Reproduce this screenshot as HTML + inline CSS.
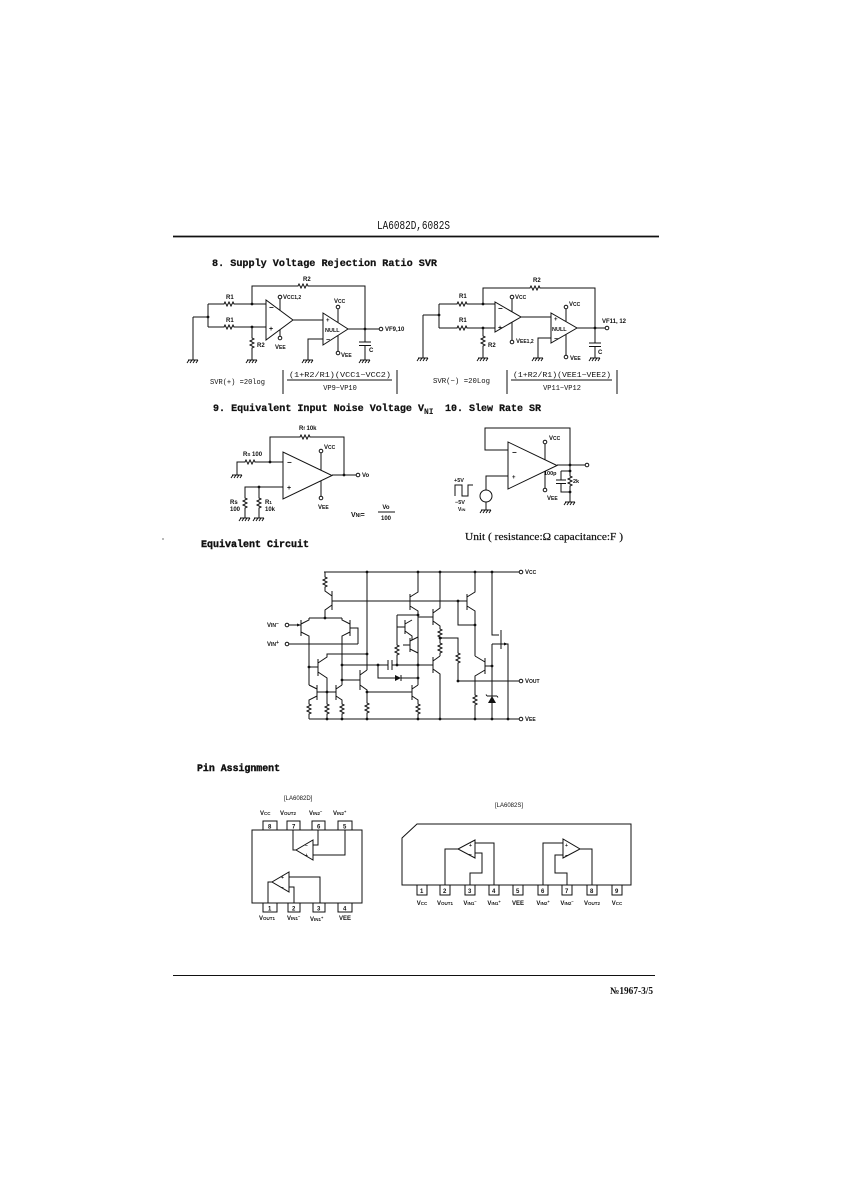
<!DOCTYPE html>
<html>
<head>
<meta charset="utf-8">
<style>
html,body{margin:0;padding:0;background:#fff;}
svg{display:block;}
.t{font-family:"Liberation Sans",sans-serif;font-size:6px;fill:#111;font-weight:bold;}
.m{font-family:"Liberation Mono",monospace;fill:#111;}
.s{font-family:"Liberation Serif",serif;fill:#111;}
</style>
</head>
<body>
<svg width="842" height="1191" viewBox="0 0 842 1191" xmlns="http://www.w3.org/2000/svg">
<rect width="842" height="1191" fill="#fff"/>

<!-- Header -->
<text class="m" x="377" y="229" font-size="12" textLength="73" lengthAdjust="spacingAndGlyphs">LA6082D,6082S</text>
<line x1="173" y1="236.5" x2="659" y2="236.5" stroke="#111" stroke-width="1.8"/>

<!-- Section 8 title -->
<text class="m" x="212" y="266" font-size="10" font-weight="bold" textLength="225" lengthAdjust="spacingAndGlyphs" stroke="#111" stroke-width="0.25">8. Supply Voltage Rejection Ratio SVR</text>

<g stroke="#111" fill="none" stroke-width="1">
<!-- ===== SVR(+) circuit ===== -->
<path d="M252,304 V286 H298 l1,-2 l2,4 l2,-4 l2,4 l2,-4 l1,2 H365 V328"/>
<path d="M208,304 H224 l1,-2 l2,4 l2,-4 l2,4 l2,-4 l1,2 H266"/>
<path d="M208,327 H224 l1,-2 l2,4 l2,-4 l2,4 l2,-4 l1,2 H266"/>
<path d="M208,304 V327 M193,317 H208 M193,317 V360"/>
<path d="M252,327 V338 l2,1 l-4,2 l4,2 l-4,2 l4,2 l-2,1 V360"/>
<path d="M266,300 L266,340 L293,320 Z"/>
<path d="M280,299 V310.4 M280,329.6 V336"/>
<path d="M293,320 H323"/>
<path d="M323,313 L323,345 L348,329 Z"/>
<path d="M338,309 V322.6 M338,335.4 V351"/>
<path d="M323,339 H308 V360"/>
<path d="M348,329 H379"/>
<path d="M365,328 V342 M359,342 H371 M359,345.5 H371 M365,345.5 V360"/>
<circle cx="280" cy="297" r="1.8"/>
<circle cx="280" cy="338" r="1.8"/>
<circle cx="338" cy="307" r="1.8"/>
<circle cx="338" cy="353" r="1.8"/>
<circle cx="381" cy="329" r="1.8"/>
<!-- grounds -->
<path d="M188,360 h10 M189,360 l-2,3 M192,360 l-2,3 M195,360 l-2,3 M198,360 l-2,3"/>
<path d="M247,360 h10 M248,360 l-2,3 M251,360 l-2,3 M254,360 l-2,3 M257,360 l-2,3"/>
<path d="M303,360 h10 M304,360 l-2,3 M307,360 l-2,3 M310,360 l-2,3 M313,360 l-2,3"/>
<path d="M360,360 h10 M361,360 l-2,3 M364,360 l-2,3 M367,360 l-2,3 M370,360 l-2,3"/>
<!-- formula bars -->
<path d="M283,370 V394 M397,370 V394 M287,380 H392"/>

<!-- ===== SVR(-) circuit ===== -->
<path d="M483,304 V288 H530 l1,-2 l2,4 l2,-4 l2,4 l2,-4 l1,2 H595 V329"/>
<path d="M439,304 H457 l1,-2 l2,4 l2,-4 l2,4 l2,-4 l1,2 H495"/>
<path d="M439,328 H457 l1,-2 l2,4 l2,-4 l2,4 l2,-4 l1,2 H495"/>
<path d="M439,304 V328 M423,315 H439 M423,315 V358"/>
<path d="M483,328 V336 l2,1 l-4,2 l4,2 l-4,2 l4,2 l-2,1 V358"/>
<path d="M495,302 L495,332 L521,317 Z"/>
<path d="M512,299 V311.8 M512,322.2 V340"/>
<path d="M521,317 H551"/>
<path d="M551,313 L551,343 L577,328 Z"/>
<path d="M566,309 V321.7 M566,334.3 V355"/>
<path d="M551,338 H538 V358"/>
<path d="M577,328 H605"/>
<path d="M595,329 V343 M589,343 H601 M589,346.5 H601 M595,346.5 V358"/>
<circle cx="512" cy="297" r="1.8"/>
<circle cx="512" cy="342" r="1.8"/>
<circle cx="566" cy="307" r="1.8"/>
<circle cx="566" cy="357" r="1.8"/>
<circle cx="607" cy="328" r="1.8"/>
<path d="M418,358 h10 M419,358 l-2,3 M422,358 l-2,3 M425,358 l-2,3 M428,358 l-2,3"/>
<path d="M478,358 h10 M479,358 l-2,3 M482,358 l-2,3 M485,358 l-2,3 M488,358 l-2,3"/>
<path d="M533,358 h10 M534,358 l-2,3 M537,358 l-2,3 M540,358 l-2,3 M543,358 l-2,3"/>
<path d="M590,358 h10 M591,358 l-2,3 M594,358 l-2,3 M597,358 l-2,3 M600,358 l-2,3"/>
<path d="M507,370 V394 M617,370 V394 M511,380 H612"/>

<!-- ===== Section 9 circuit ===== -->
<path d="M270,462 V437 H300 l1,-2 l2,4 l2,-4 l2,4 l2,-4 l1,2 H344 V475"/>
<path d="M237,475 V462 H245 l1,-2 l2,4 l2,-4 l2,4 l2,-4 l1,2 H283"/>
<path d="M283,452 L283,499 L332,475.5 Z"/>
<path d="M321,453 V470.2 M321,480.8 V496"/>
<path d="M332,475 H356"/>
<path d="M283,487 H245 V498 l2,1 l-4,2 l4,2 l-4,2 l4,2 l-2,1 V518"/>
<path d="M259,487 V498 l2,1 l-4,2 l4,2 l-4,2 l4,2 l-2,1 V518"/>
<circle cx="321" cy="451" r="1.8"/>
<circle cx="321" cy="498" r="1.8"/>
<circle cx="358" cy="475" r="1.8"/>
<path d="M232,475 h10 M233,475 l-2,3 M236,475 l-2,3 M239,475 l-2,3 M242,475 l-2,3"/>
<path d="M240,518 h10 M241,518 l-2,3 M244,518 l-2,3 M247,518 l-2,3 M250,518 l-2,3"/>
<path d="M254,518 h10 M255,518 l-2,3 M258,518 l-2,3 M261,518 l-2,3 M264,518 l-2,3"/>
<path d="M378,512 H395"/>

<!-- ===== Section 10 circuit ===== -->
<path d="M508,450 H485 V428 H570 V476 l2,1 l-4,2 l4,2 l-4,2 l4,2 l-2,1 V502"/>
<path d="M508,442 L508,489 L557,465.5 Z"/>
<path d="M545,444 V459.7 M545,471.3 V488"/>
<path d="M557,465 H585"/>
<path d="M561,471 H570 M561,471 V480 M556,480 H566 M556,483.5 H566 M561,483.5 V492 H570"/>
<path d="M508,476 H486 V490"/>
<circle cx="486" cy="496" r="6"/>
<path d="M486,502 V510"/>
<path d="M455,496 V485 H462 V496 H468 V485 H473"/>
<circle cx="545" cy="442" r="1.8"/>
<circle cx="545" cy="490" r="1.8"/>
<circle cx="587" cy="465" r="1.8"/>
<path d="M481,510 h10 M482,510 l-2,3 M485,510 l-2,3 M488,510 l-2,3 M491,510 l-2,3"/>
<path d="M565,502 h10 M566,502 l-2,3 M569,502 l-2,3 M572,502 l-2,3 M575,502 l-2,3"/>
</g>

<!-- dots -->
<g fill="#111">
<circle cx="208" cy="317" r="1.4"/><circle cx="252" cy="304" r="1.4"/><circle cx="252" cy="327" r="1.4"/><circle cx="365" cy="329" r="1.4"/>
<circle cx="439" cy="315" r="1.4"/><circle cx="483" cy="304" r="1.4"/><circle cx="483" cy="328" r="1.4"/><circle cx="595" cy="328" r="1.4"/>
<circle cx="270" cy="462" r="1.4"/><circle cx="344" cy="475" r="1.4"/><circle cx="259" cy="487" r="1.4"/>
<circle cx="570" cy="465" r="1.4"/><circle cx="570" cy="471" r="1.4"/><circle cx="570" cy="492" r="1.4"/>
<circle cx="163" cy="539" r="0.6"/>
</g>

<!-- Section 8 labels -->
<g class="t">
<text x="303" y="281">R2</text>
<text x="226" y="299">R1</text>
<text x="226" y="322">R1</text>
<text x="283" y="299">V<tspan font-size="5">CC1,2</tspan></text>
<text x="334" y="303">V<tspan font-size="5">CC</tspan></text>
<text x="275" y="349">V<tspan font-size="5">EE</tspan></text>
<text x="257" y="347">R2</text>
<text x="341" y="357">V<tspan font-size="5">EE</tspan></text>
<text x="385" y="331">VF9,10</text>
<text x="369" y="352">C</text>
<text x="269" y="310" font-size="8">−</text>
<text x="269" y="331" font-size="7">+</text>
<text x="326" y="322" font-size="6">+</text>
<text x="325" y="332" font-size="5.5">NULL</text>
<text x="326" y="342" font-size="7">−</text>

<text x="533" y="282">R2</text>
<text x="459" y="298">R1</text>
<text x="459" y="322">R1</text>
<text x="515" y="299">V<tspan font-size="5">CC</tspan></text>
<text x="516" y="343">V<tspan font-size="5">EE1,2</tspan></text>
<text x="488" y="347">R2</text>
<text x="569" y="306">V<tspan font-size="5">CC</tspan></text>
<text x="570" y="360">V<tspan font-size="5">EE</tspan></text>
<text x="602" y="323">VF11, 12</text>
<text x="598" y="354">C</text>
<text x="498" y="311" font-size="8">−</text>
<text x="498" y="330" font-size="7">+</text>
<text x="554" y="321" font-size="6">+</text>
<text x="552" y="331" font-size="5.5">NULL</text>
<text x="554" y="341" font-size="7">−</text>
</g>

<!-- formulas -->
<g class="m" font-size="7.5">
<text x="210" y="384" textLength="55" lengthAdjust="spacingAndGlyphs">SVR(+) =20log</text>
<text x="340" y="377" text-anchor="middle" font-size="7" textLength="102" lengthAdjust="spacingAndGlyphs">(1+R2/R1)(VCC1−VCC2)</text>
<text x="340" y="390" text-anchor="middle" font-size="7">VP9−VP10</text>
<text x="433" y="383" textLength="57" lengthAdjust="spacingAndGlyphs">SVR(−) =20Log</text>
<text x="562" y="377" text-anchor="middle" font-size="7" textLength="98" lengthAdjust="spacingAndGlyphs">(1+R2/R1)(VEE1−VEE2)</text>
<text x="562" y="390" text-anchor="middle" font-size="7">VP11−VP12</text>
</g>

<!-- Section 9/10 titles -->
<text class="m" x="213" y="411" font-size="10" font-weight="bold" textLength="211" lengthAdjust="spacingAndGlyphs" stroke="#111" stroke-width="0.25">9. Equivalent Input Noise Voltage V</text>
<text class="m" x="424" y="414" font-size="8" font-weight="bold">NI</text>
<text class="m" x="445" y="411" font-size="10" font-weight="bold" textLength="96" lengthAdjust="spacingAndGlyphs" stroke="#111" stroke-width="0.25">10. Slew Rate SR</text>

<g class="t">
<text x="299" y="430">R<tspan font-size="4.5">f</tspan> 10k</text>
<text x="243" y="456">R<tspan font-size="4.5">S</tspan> 100</text>
<text x="324" y="449">V<tspan font-size="5">CC</tspan></text>
<text x="318" y="509">V<tspan font-size="5">EE</tspan></text>
<text x="362" y="477">Vo</text>
<text x="230" y="504">Rs</text>
<text x="230" y="511">100</text>
<text x="265" y="504">R<tspan font-size="4.5">1</tspan></text>
<text x="265" y="511">10k</text>
<text x="287" y="465" font-size="8">−</text>
<text x="287" y="490" font-size="7">+</text>
<text x="351" y="517" font-size="7">V<tspan font-size="5">NI</tspan>=</text>
<text x="386" y="509" text-anchor="middle">Vo</text>
<text x="386" y="520" text-anchor="middle">100</text>

<text x="549" y="440">V<tspan font-size="5">CC</tspan></text>
<text x="547" y="500">V<tspan font-size="5">EE</tspan></text>
<text x="544" y="475" font-size="5.5">100p</text>
<text x="573" y="483" font-size="5.5">2k</text>
<text x="454" y="482" font-size="5.5">+5V</text>
<text x="455" y="504" font-size="5.5">−5V</text>
<text x="458" y="511" font-size="5">V<tspan font-size="4">IN</tspan></text>
<text x="512" y="455" font-size="8">−</text>
<text x="512" y="479" font-size="6">+</text>
</g>

<text class="s" x="465" y="540" font-size="10" textLength="158" lengthAdjust="spacingAndGlyphs" stroke="#111" stroke-width="0.2">Unit ( resistance:Ω capacitance:F )</text>
<text class="m" x="201" y="547" font-size="10" font-weight="bold" textLength="108" lengthAdjust="spacingAndGlyphs" stroke="#111" stroke-width="0.4">Equivalent Circuit</text>

<!-- ===== Equivalent Circuit ===== -->
<g stroke="#111" fill="none" stroke-width="1">
<path d="M324,572 H519 M309,719 H519 M458,681 H519"/>
<!-- Q1 -->
<path d="M325,572 V577 l2,1 l-4,2 l4,2 l-4,2 l4,2 l-2,1 V591 L332,596"/>
<path d="M332,591 V610 M332,605 L325,610 V618"/>
<path d="M332,601 H467"/>
<!-- diff pair -->
<path d="M309,618 H342"/>
<path d="M301,620 V636 M301,624 L309,620 V618 M301,632 L309,636 V685"/>
<path d="M289,625 H301"/>
<path d="M350,620 V636 M350,624 L342,620 V618 M350,632 L342,636 V685"/>
<path d="M350,628 H358 V644 M289,644 H358"/>
<!-- Q3 -->
<path d="M318,659 V676 M309,667 H318 M318,663 L327,657 V654 H367 M318,672 L327,678 V704 l2,1 l-4,2 l4,2 l-4,2 l4,2 l-2,1 V719"/>
<path d="M367,572 V670"/>
<!-- Q12 -->
<path d="M360,670 V690 M360,675 L367,670 M360,685 L367,690 V703 l2,1 l-4,2 l4,2 l-4,2 l4,2 l-2,1 V719"/>
<path d="M342,680 H360"/>
<!-- cap line -->
<path d="M342,665 H388 M392,665 H433 M388,660 V670 M392,660 V670"/>
<path d="M378,665 V678 H395 M401,678 H418"/>
<path d="M401,675 V681"/>
<!-- mirror -->
<path d="M317,685 V700 M317,689 L309,685 M317,696 L309,700 V704 l2,1 l-4,2 l4,2 l-4,2 l4,2 l-2,1 V719"/>
<path d="M336,685 V700 M336,689 L342,685 M336,696 L342,700 V704 l2,1 l-4,2 l4,2 l-4,2 l4,2 l-2,1 V719"/>
<path d="M317,692 H336"/>
<!-- Q13 -->
<path d="M367,692 H412 M412,685 V700 M412,689 L418,685 M412,696 L418,700 V704 l2,1 l-4,2 l4,2 l-4,2 l4,2 l-2,1 V719"/>
<!-- Q5 -->
<path d="M410,594 V610 M410,597 L418,592 V572 M410,606 L418,611 V685"/>
<!-- Darlington Q10/Q11 -->
<path d="M397,615 H418 M397,615 V645 l2,1 l-4,2 l4,2 l-4,2 l4,2 l-2,1 V665"/>
<path d="M405,620 V634 M397,627 H405 M405,624 L412,620 M405,631 L412,636 V640"/>
<path d="M410,638 V652 M403,645 H410 M410,641 L418,637 M410,649 L418,653"/>
<!-- Q6 -->
<path d="M467,594 V610 M467,597 L475,592 V572 M467,606 L475,611 V656"/>
<path d="M458,601 V625 H475"/>
<!-- Q7 -->
<path d="M433,609 V625 M418,617 H433 M433,613 L440,608 V572 M433,621 L440,626 V629 l2,1 l-4,2 l4,2 l-4,2 l4,2 l-2,1 V643 l2,1 l-4,2 l4,2 l-4,2 l4,2 l-2,1 V656"/>
<path d="M440,638 H458 V653 l2,1 l-4,2 l4,2 l-4,2 l4,2 l-2,1 V681"/>
<!-- Q8 -->
<path d="M433,657 V673 M433,661 L440,656 M433,669 L440,674 V719"/>
<!-- Q9 -->
<path d="M485,658 V674 M485,662 L475,656 M485,670 L475,676 V695 l2,1 l-4,2 l4,2 l-4,2 l4,2 l-2,1 V719"/>
<path d="M485,666 H492"/>
<!-- FET + zener -->
<path d="M492,572 V635 H499 M501,630 V649 M492,644 H508 V719 M492,644 V719"/>
<path d="M487,696 H497 M487,696 l-1,-1.5 M497,696 l1,1.5"/>
<circle cx="521" cy="572" r="1.8"/>
<circle cx="521" cy="719" r="1.8"/>
<circle cx="521" cy="681" r="1.8"/>
<circle cx="287" cy="625" r="1.8"/>
<circle cx="287" cy="644" r="1.8"/>
</g>
<g fill="#111">
<path d="M395,675 L395,681 L401,678 Z"/>
<path d="M488,703 L496,703 L492,696 Z"/>
<path d="M301,625 l-4,-1.5 v3 Z"/>
<path d="M508,644 l-4,-1.5 v3 Z"/>
<circle cx="367" cy="572" r="1.4"/><circle cx="418" cy="572" r="1.4"/><circle cx="440" cy="572" r="1.4"/><circle cx="475" cy="572" r="1.4"/><circle cx="492" cy="572" r="1.4"/>
<circle cx="325" cy="618" r="1.4"/><circle cx="367" cy="654" r="1.4"/><circle cx="309" cy="667" r="1.4"/>
<circle cx="342" cy="665" r="1.4"/><circle cx="342" cy="680" r="1.4"/><circle cx="378" cy="665" r="1.4"/><circle cx="397" cy="665" r="1.4"/>
<circle cx="418" cy="665" r="1.4"/><circle cx="418" cy="678" r="1.4"/><circle cx="418" cy="615" r="1.4"/>
<circle cx="367" cy="692" r="1.4"/><circle cx="327" cy="692" r="1.4"/>
<circle cx="458" cy="601" r="1.4"/><circle cx="475" cy="625" r="1.4"/><circle cx="440" cy="638" r="1.4"/>
<circle cx="492" cy="666" r="1.4"/><circle cx="458" cy="681" r="1.4"/>
<circle cx="327" cy="719" r="1.4"/><circle cx="342" cy="719" r="1.4"/><circle cx="367" cy="719" r="1.4"/><circle cx="418" cy="719" r="1.4"/>
<circle cx="440" cy="719" r="1.4"/><circle cx="475" cy="719" r="1.4"/><circle cx="492" cy="719" r="1.4"/><circle cx="508" cy="719" r="1.4"/>
</g>
<g class="t">
<text x="525" y="574">V<tspan font-size="5">CC</tspan></text>
<text x="525" y="683">V<tspan font-size="5">OUT</tspan></text>
<text x="525" y="721">V<tspan font-size="5">EE</tspan></text>
<text x="267" y="627">V<tspan font-size="5">IN</tspan><tspan font-size="5" dy="-2">−</tspan></text>
<text x="267" y="646">V<tspan font-size="5">IN</tspan><tspan font-size="5" dy="-2">+</tspan></text>
</g>

<!-- ===== Pin Assignment ===== -->
<text class="m" x="197" y="771" font-size="10" font-weight="bold" textLength="83" lengthAdjust="spacingAndGlyphs" stroke="#111" stroke-width="0.4">Pin Assignment</text>

<!-- LA6082D -->
<g class="t" font-size="5.5">
<text x="284" y="800" font-weight="normal">[LA6082D]</text>
<text x="260" y="815">V<tspan font-size="4.5">CC</tspan></text>
<text x="280" y="815">V<tspan font-size="4.5">OUT2</tspan></text>
<text x="309" y="815">V<tspan font-size="4.5">IN2</tspan><tspan dy="-2" font-size="4">−</tspan></text>
<text x="333" y="815">V<tspan font-size="4.5">IN2</tspan><tspan dy="-2" font-size="4">+</tspan></text>
<text x="259" y="920">V<tspan font-size="4.5">OUT1</tspan></text>
<text x="287" y="920">V<tspan font-size="4.5">IN1</tspan><tspan dy="-2" font-size="4">−</tspan></text>
<text x="310" y="921">V<tspan font-size="4.5">IN1</tspan><tspan dy="-2" font-size="4">+</tspan></text>
<text x="339" y="920">VEE</text>
<text x="268" y="828.5" font-size="6">8</text>
<text x="292" y="828.5" font-size="6">7</text>
<text x="317" y="828.5" font-size="6">6</text>
<text x="343" y="828.5" font-size="6">5</text>
<text x="268" y="910.5" font-size="6">1</text>
<text x="292" y="910.5" font-size="6">2</text>
<text x="317" y="910.5" font-size="6">3</text>
<text x="343" y="910.5" font-size="6">4</text>
<text x="305" y="847" font-size="5">−</text>
<text x="305" y="857" font-size="5">+</text>
<text x="281" y="879" font-size="5">+</text>
<text x="281" y="889" font-size="5">−</text>
</g>
<g stroke="#111" fill="none" stroke-width="1">
<rect x="252" y="830" width="110" height="73"/>
<path d="M263,830 V821 H277 V830 M287,830 V821 H300 V830 M312,830 V821 H325 V830 M338,830 V821 H352 V830"/>
<path d="M263,903 V912 H277 V903 M288,903 V912 H300 V903 M313,903 V912 H325 V903 M338,903 V912 H352 V903"/>
<path d="M313,840 L313,860 L296,850 Z"/>
<path d="M296,850 H293 V830 M313,845 H318 V830 M313,855 H345 V830"/>
<path d="M289,872 L289,892 L272,882 Z"/>
<path d="M272,882 H268 V903 M289,887 H294 V903 M289,877 H320 V903"/>
</g>

<!-- LA6082S -->
<g stroke="#111" fill="none" stroke-width="1">
<path d="M402,838 L417,824 H631 V885 H402 Z"/>
<path d="M417,885 V895 H427 V885 M440,885 V895 H450 V885 M465,885 V895 H475 V885 M489,885 V895 H499 V885 M513,885 V895 H523 V885 M538,885 V895 H548 V885 M562,885 V895 H572 V885 M587,885 V895 H597 V885 M612,885 V895 H622 V885"/>
<path d="M475,840 L475,858 L458,849 Z"/>
<path d="M458,849 H445 V885 M475,843 H494 V885 M475,853 H482 V873 H470 V885"/>
<path d="M563,839 L563,858 L580,849 Z"/>
<path d="M580,849 H592 V885 M563,843 H543 V885 M563,855 H555 V873 H567 V885"/>
</g>
<g class="t" font-size="5.5">
<text x="495" y="807" font-weight="normal">[LA6082S]</text>
<text x="420" y="893" font-size="6">1</text>
<text x="443" y="893" font-size="6">2</text>
<text x="468" y="893" font-size="6">3</text>
<text x="492" y="893" font-size="6">4</text>
<text x="516" y="893" font-size="6">5</text>
<text x="541" y="893" font-size="6">6</text>
<text x="565" y="893" font-size="6">7</text>
<text x="590" y="893" font-size="6">8</text>
<text x="615" y="893" font-size="6">9</text>
<text x="422" y="905" text-anchor="middle">V<tspan font-size="4.5">CC</tspan></text>
<text x="445" y="905" text-anchor="middle">V<tspan font-size="4.5">OUT1</tspan></text>
<text x="470" y="905" text-anchor="middle">V<tspan font-size="4.5">IN1</tspan><tspan dy="-2" font-size="4">−</tspan></text>
<text x="494" y="905" text-anchor="middle">V<tspan font-size="4.5">IN1</tspan><tspan dy="-2" font-size="4">+</tspan></text>
<text x="518" y="905" text-anchor="middle">VEE</text>
<text x="543" y="905" text-anchor="middle">V<tspan font-size="4.5">IN2</tspan><tspan dy="-2" font-size="4">+</tspan></text>
<text x="567" y="905" text-anchor="middle">V<tspan font-size="4.5">IN2</tspan><tspan dy="-2" font-size="4">−</tspan></text>
<text x="592" y="905" text-anchor="middle">V<tspan font-size="4.5">OUT2</tspan></text>
<text x="617" y="905" text-anchor="middle">V<tspan font-size="4.5">CC</tspan></text>
<text x="469" y="847" font-size="5">+</text>
<text x="469" y="856" font-size="5">−</text>
<text x="565" y="847" font-size="5">+</text>
<text x="565" y="857" font-size="5">−</text>
</g>

<!-- Footer -->
<line x1="173" y1="975.5" x2="655" y2="975.5" stroke="#111" stroke-width="1"/>
<text class="s" x="610" y="994" font-size="10" font-weight="bold" textLength="43" lengthAdjust="spacingAndGlyphs">№1967-3/5</text>
</svg>
</body>
</html>
